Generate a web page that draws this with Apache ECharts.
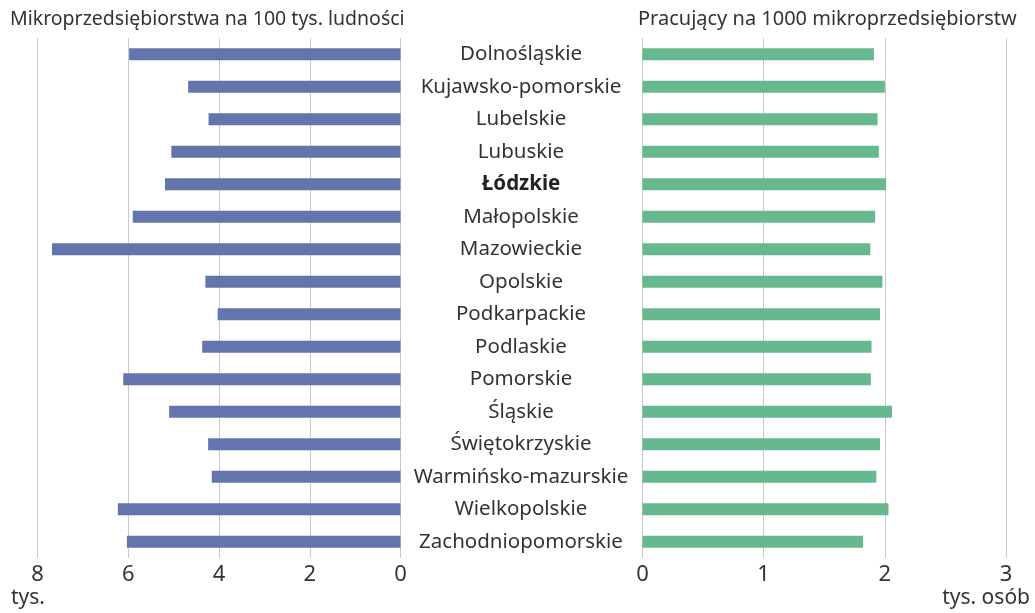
<!DOCTYPE html>
<html><head><meta charset="utf-8">
<script src="https://cdn.jsdelivr.net/npm/echarts@6/dist/echarts.min.js"></script>
<style>html,body{margin:0;padding:0;background:#fff}#c{width:1035px;height:613px}</style>
</head><body><div id="c"></div>
<script>
const categories = ["Dolnośląskie","Kujawsko-pomorskie","Lubelskie","Lubuskie","Łódzkie","Małopolskie","Mazowieckie","Opolskie","Podkarpackie","Podlaskie","Pomorskie","Śląskie","Świętokrzyskie","Warmińsko-mazurskie","Wielkopolskie","Zachodniopomorskie"];
const microPer100k = [5.98,4.68,4.23,5.05,5.19,5.90,7.68,4.30,4.03,4.37,6.11,5.10,4.24,4.16,6.23,6.03];
const workersPer1000 = [1.91,2.00,1.94,1.95,2.01,1.92,1.88,1.98,1.96,1.89,1.885,2.06,1.96,1.93,2.03,1.82];
const leftTitle = "Mikroprzedsiębiorstwa na 100 tys. ludności";
const rightTitle = "Pracujący na 1000 mikroprzedsiębiorstw";
const leftUnit = "tys.";
const rightUnit = "tys. osób";
const boldCategory = "Łódzkie";

const FONT = "Noto Sans";
const TXT = "#333333";
const chart = echarts.init(document.getElementById('c'), null, {renderer:'canvas'});
const gridLine = {show:true, lineStyle:{color:'#c9c9c9', width:1}};
chart.setOption({
  animation:false,
  textStyle:{fontFamily:FONT},
  grid:[
    {left:37.5, right:1035-400.5, top:38, height:520},
    {left:642.5, right:1035-1006, top:38, height:520}
  ],
  xAxis:[
    {gridIndex:0, type:'value', inverse:true, min:0, max:8, interval:2,
     axisLine:{show:false}, axisTick:{show:false}, splitLine:gridLine,
     axisLabel:{fontSize:22, color:TXT, margin:6, fontFamily:FONT}},
    {gridIndex:1, type:'value', min:0, max:3, interval:1,
     axisLine:{show:false}, axisTick:{show:false}, splitLine:gridLine,
     axisLabel:{fontSize:22, color:TXT, margin:6, fontFamily:FONT}}
  ],
  yAxis:[
    {gridIndex:0, type:'category', inverse:true, data:categories,
     axisLine:{show:false}, axisTick:{show:false}, axisLabel:{show:false}},
    {gridIndex:1, type:'category', inverse:true, data:categories,
     axisLine:{show:false}, axisTick:{show:false},
     axisLabel:{show:true, margin:121.5, align:'center', fontSize:20.5, color:TXT, fontFamily:FONT,
       formatter:v => v===boldCategory ? '{b|'+v+'}' : v,
       rich:{b:{fontWeight:'bold', fontSize:20.5, color:'#222', fontFamily:FONT}}}}
  ],
  series:[
    {type:'bar', xAxisIndex:0, yAxisIndex:0, data:microPer100k, barWidth:12,
     itemStyle:{color:'#6474ad'}},
    {type:'bar', xAxisIndex:1, yAxisIndex:1, data:workersPer1000, barWidth:12,
     itemStyle:{color:'#66b88e'}}
  ],
  graphic:[
    {type:'text', left:10, top:9, style:{text:leftTitle, fontSize:19.5, fill:TXT, fontFamily:FONT}},
    {type:'text', left:638, top:9, style:{text:rightTitle, fontSize:20, fill:TXT, fontFamily:FONT}},
    {type:'text', left:11, top:588, style:{text:leftUnit, fontSize:21, fill:TXT, fontFamily:FONT}},
    {type:'text', right:5, top:588, style:{text:rightUnit, fontSize:21, fill:TXT, fontFamily:FONT}}
  ]
});
</script></body></html>
